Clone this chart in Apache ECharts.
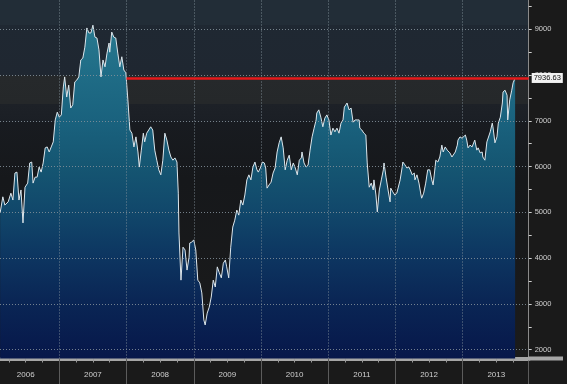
<!DOCTYPE html>
<html><head><meta charset="utf-8">
<script src="https://cdn.jsdelivr.net/npm/echarts@6/dist/echarts.min.js"></script>
<style>html,body{margin:0;padding:0;background:#1a1a1a;}#c{width:567px;height:384px;}</style>
</head><body><div id="c"></div>
<script>
// ---- data (decimal year, index level) ----
const pts2006 = [[2006.12,4990],[2006.16,5340],[2006.19,5160],[2006.24,5230],[2006.28,5420],[2006.31,5270],[2006.34,5860],[2006.37,5880],[2006.40,5270],[2006.43,5490],[2006.46,4770],[2006.49,5550],[2006.53,5640],[2006.56,6080],[2006.59,6100],[2006.61,5640],[2006.64,5770],[2006.67,5770],[2006.70,5990],[2006.73,5880],[2006.76,6080],[2006.79,6410],[2006.82,6430],[2006.85,6320],[2006.88,6430],[2006.91,6540],[2006.94,7020],[2006.97,7190]];
const pts2007 = [[2007.00,7080],[2007.03,7130],[2007.06,7740],[2007.08,7960],[2007.11,7520],[2007.14,7780],[2007.17,7280],[2007.20,7350],[2007.23,7850],[2007.26,7890],[2007.29,7960],[2007.32,8330],[2007.35,8370],[2007.38,8610],[2007.41,9030],[2007.44,8920],[2007.47,8920],[2007.50,9090],[2007.53,8830],[2007.56,8810],[2007.59,8550],[2007.62,7960],[2007.65,8330],[2007.68,8180],[2007.71,8480],[2007.74,8700],[2007.75,8500],[2007.78,8940],[2007.81,8830],[2007.84,8810],[2007.87,8480],[2007.90,8180],[2007.93,8400],[2007.96,8110],[2007.99,8050]];
const pts2008 = [[2008.02,7460],[2008.05,6800],[2008.08,6730],[2008.11,6430],[2008.14,6650],[2008.17,6320],[2008.19,5990],[2008.22,6360],[2008.25,6730],[2008.27,6540],[2008.30,6730],[2008.33,6800],[2008.36,6870],[2008.39,6800],[2008.42,6360],[2008.45,6140],[2008.48,5930],[2008.51,5820],[2008.54,6140],[2008.57,6730],[2008.60,6580],[2008.63,6360],[2008.66,6210],[2008.69,6140],[2008.72,6190],[2008.75,6100],[2008.77,5420],[2008.78,4550],[2008.81,3520],[2008.84,4240],[2008.87,4180],[2008.90,3740],[2008.93,4020],[2008.94,4330],[2008.97,4350]];
const pts2009 = [[2009.00,4400],[2009.03,4180],[2009.06,3520],[2009.09,3460],[2009.12,3240],[2009.15,2650],[2009.17,2540],[2009.20,2800],[2009.23,2930],[2009.26,3150],[2009.29,3520],[2009.32,3370],[2009.35,3810],[2009.38,3680],[2009.41,3570],[2009.44,3890],[2009.47,3960],[2009.49,3810],[2009.52,3570],[2009.55,4240],[2009.58,4680],[2009.61,4830],[2009.64,5050],[2009.67,4940],[2009.70,5270],[2009.73,5160],[2009.76,5380],[2009.79,5710],[2009.82,5820],[2009.85,5710],[2009.88,5990],[2009.91,6100],[2009.94,5930],[2009.96,5880],[2009.99,5970]];
const pts2010 = [[2010.02,6100],[2010.05,6080],[2010.07,5970],[2010.09,5530],[2010.12,5600],[2010.15,5660],[2010.18,5860],[2010.21,5970],[2010.24,6320],[2010.27,6520],[2010.30,6650],[2010.33,6410],[2010.36,5930],[2010.39,6140],[2010.42,6250],[2010.45,5930],[2010.48,6080],[2010.51,5970],[2010.54,5820],[2010.57,6140],[2010.60,6190],[2010.61,6320],[2010.64,6080],[2010.67,5990],[2010.70,6030],[2010.73,6360],[2010.76,6650],[2010.79,6840],[2010.82,7020],[2010.83,7170],[2010.86,7240],[2010.89,7080],[2010.92,6870],[2010.95,7060],[2010.98,7130]];
const pts2011 = [[2011.01,7020],[2011.04,6690],[2011.07,6840],[2011.10,6760],[2011.13,6840],[2011.16,6730],[2011.19,6950],[2011.22,7020],[2011.24,7300],[2011.26,7300],[2011.28,7390],[2011.31,7240],[2011.34,7280],[2011.37,6970],[2011.40,7020],[2011.43,7020],[2011.46,7020],[2011.47,6840],[2011.50,6800],[2011.53,6730],[2011.56,6690],[2011.58,6080],[2011.61,5550],[2011.64,5640],[2011.67,5490],[2011.68,5710],[2011.71,5380],[2011.73,5010],[2011.76,5490],[2011.79,5710],[2011.82,5930],[2011.83,6080],[2011.86,5770],[2011.89,5490],[2011.92,5230],[2011.93,5530],[2011.96,5450],[2011.99,5380]];
const pts2012 = [[2012.02,5420],[2012.04,5380],[2012.07,5710],[2012.10,5990],[2012.11,6100],[2012.14,6040],[2012.17,5970],[2012.20,5990],[2012.22,5930],[2012.25,5820],[2012.28,5860],[2012.29,5710],[2012.32,5820],[2012.35,5640],[2012.38,5380],[2012.39,5310],[2012.42,5420],[2012.45,5640],[2012.48,5930],[2012.51,5930],[2012.54,5710],[2012.56,5600],[2012.59,5990],[2012.60,6140],[2012.63,6100],[2012.66,6210],[2012.69,6470],[2012.71,6320],[2012.74,6430],[2012.77,6360],[2012.78,6320],[2012.81,6300],[2012.84,6210],[2012.86,6210],[2012.89,6320],[2012.92,6470],[2012.93,6580],[2012.96,6650],[2012.99,6620]];
const pts2013 = [[2013.01,6580],[2013.04,6690],[2013.06,6580],[2013.08,6410],[2013.11,6470],[2013.14,6430],[2013.15,6470],[2013.18,6580],[2013.21,6360],[2013.23,6410],[2013.26,6300],[2013.29,6320],[2013.30,6210],[2013.33,6140],[2013.36,6540],[2013.38,6580],[2013.41,6760],[2013.44,6950],[2013.45,6870],[2013.48,6520],[2013.51,6650],[2013.53,6950],[2013.56,7080],[2013.59,7390],[2013.60,7630],[2013.63,7670],[2013.66,7560],[2013.67,7020],[2013.70,7460],[2013.73,7670],[2013.75,7830],[2013.78,7936.63]];

const yearLabels = ['2006','2007','2008','2009','2010','2011','2012','2013'];
const yLabels = [2000,3000,4000,5000,6000,7000,8000,9000];
const lastValue = 7936.63;
const lastLabel = '7936.63';
const refStart = 2008.0;

// axis extents
const xMin = 2006.118, xMax = 2013.982;
const yMin = 1808, yMax = 9640;

const data = [].concat(pts2006, pts2007, pts2008, pts2009, pts2010, pts2011, pts2012, pts2013);

const quarterTicks = [];
yearLabels.forEach(y => { for (let q = 0; q < 4; q++) { const v = +y + q / 4; if (v > xMin && v < xMax) quarterTicks.push(v); } });
const yearMids = yearLabels.map(y => +y + 0.5);
const yearBounds = yearLabels.slice(1).map(y => +y).concat([xMax]);
const halfTicks = [];
for (let v = 2000; v <= 9500; v += 500) halfTicks.push(v);

const FONT = "'Liberation Sans', Arial, sans-serif";
const chart = echarts.init(document.getElementById('c'), null, {renderer: 'canvas'});

const bgGrad = new echarts.graphic.LinearGradient(0, 0, 0, 1, [
  {offset: 0, color: '#222d37'}, {offset: 0.07, color: '#222d37'},
  {offset: 0.071, color: '#1f2832'}, {offset: 0.21, color: '#1f2731'},
  {offset: 0.211, color: '#26292b'}, {offset: 0.29, color: '#25282a'},
  {offset: 0.291, color: '#1d2127'}, {offset: 0.34, color: '#1b1f25'},
  {offset: 0.341, color: '#181b20'}, {offset: 0.5, color: '#16181b'},
  {offset: 1, color: '#1b1b1b'}
]);
const areaGrad = new echarts.graphic.LinearGradient(0, 0, 0, 1, [
  {offset: 0, color: '#28798f'}, {offset: 0.15, color: '#1f6c86'},
  {offset: 0.285, color: '#1a627e'}, {offset: 0.42, color: '#155672'},
  {offset: 0.555, color: '#11486b'}, {offset: 0.69, color: '#0d3661'},
  {offset: 0.825, color: '#0a2655'}, {offset: 1, color: '#07174a'}
]);

const gridStyle = {color: '#85929b', type: [1, 2], width: 1, opacity: 0.85};
const markData = [];
yearLabels.slice(1).forEach(y => markData.push({xAxis: +y, lineStyle: gridStyle}));
yLabels.forEach(v => markData.push({yAxis: v, lineStyle: gridStyle}));
markData.push([
  {coord: [refStart, lastValue], lineStyle: {color: '#e3191b', width: 2.5, type: 'solid', opacity: 1}},
  {coord: [xMax, lastValue], label: {show: true, position: 'end', formatter: lastLabel, backgroundColor: '#f2f2f2', color: '#111', fontSize: 7.5, fontFamily: FONT, padding: [1, 2, 1, 2], distance: 3}}
]);

chart.setOption({
  backgroundColor: '#1a1a1a',
  animation: false,
  grid: {left: 0, right: 38.3, top: 0, bottom: 25.5, show: true, borderWidth: 0, backgroundColor: bgGrad},
  xAxis: [{
    type: 'value', min: xMin, max: xMax, position: 'bottom',
    axisLine: {show: true, onZero: false, lineStyle: {color: '#a6a6a6', width: 4}},
    axisTick: {show: true, customValues: quarterTicks, length: 4, lineStyle: {color: '#9a9a9a'}},
    axisLabel: {show: true, customValues: yearMids, formatter: v => String(Math.floor(v)), color: '#cfcfcf', fontSize: 8, fontFamily: FONT, margin: 12},
    splitLine: {show: false}
  }, {
    type: 'value', min: xMin, max: xMax, position: 'bottom',
    axisLine: {show: false},
    axisTick: {show: true, customValues: yearBounds, length: 26, lineStyle: {color: '#5c5c5c'}},
    axisLabel: {show: false}, splitLine: {show: false}
  }],
  yAxis: {
    type: 'value', position: 'right', min: yMin, max: yMax,
    axisLine: {show: true, lineStyle: {color: '#8a8a8a'}},
    axisTick: {show: true, customValues: halfTicks, length: 3, lineStyle: {color: '#cfcfcf'}},
    axisLabel: {show: true, customValues: yLabels, formatter: v => String(v), color: '#d0d0d0', fontSize: 7.5, fontFamily: FONT, margin: 6},
    splitLine: {show: false}
  },
  graphic: [{type: 'rect', shape: {x: 528, y: 356.5, width: 35, height: 4}, style: {fill: '#a6a6a6'}, z: 10}],
  series: [{
    type: 'line', data: data, xAxisIndex: 0, yAxisIndex: 0,
    showSymbol: false, symbol: 'none', clip: false,
    lineStyle: {color: '#dce6ec', width: 1},
    areaStyle: {color: areaGrad, origin: 'start', opacity: 1},
    markLine: {silent: true, symbol: 'none', animation: false, label: {show: false}, data: markData}
  }]
});
</script></body></html>
